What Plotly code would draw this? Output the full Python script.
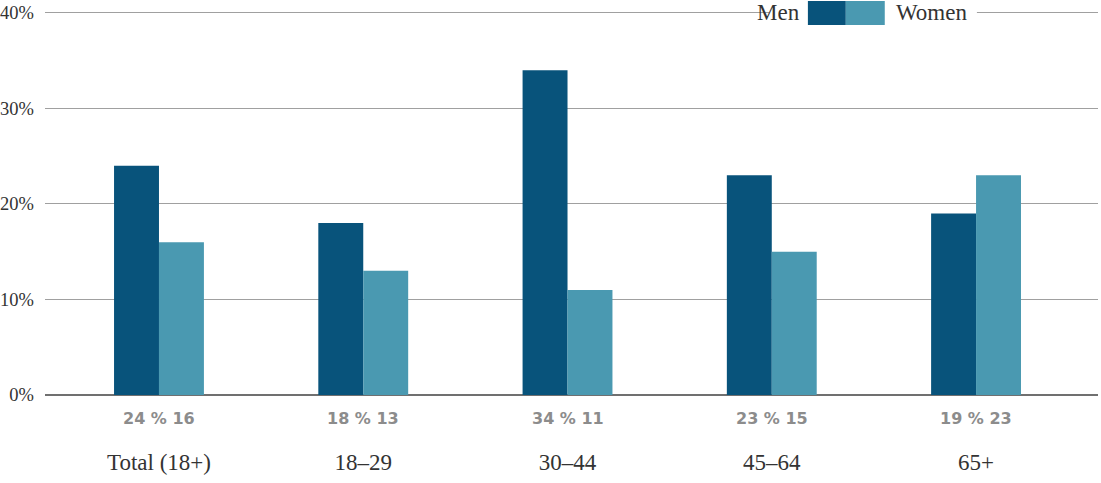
import plotly.graph_objects as go

categories = ["Total (18+)", "18–29", "30–44", "45–64", "65+"]
men = [24, 18, 34, 23, 19]
women = [16, 13, 11, 15, 23]
y_ticks = [0, 10, 20, 30, 40]
y_tick_labels = ["0%", "10%", "20%", "30%", "40%"]

MEN_C = "#08537b"
WOMEN_C = "#4a99b1"
SERIF = "Liberation Serif"
xs = list(range(len(categories)))

fig = go.Figure()
fig.add_trace(go.Bar(x=xs, y=men, name="Men", marker_color=MEN_C, marker_line_width=0))
fig.add_trace(go.Bar(x=xs, y=women, name="Women", marker_color=WOMEN_C, marker_line_width=0))

for i, (m, w) in enumerate(zip(men, women)):
    fig.add_annotation(x=i, y=0, xref="x", yref="y", text=f"<b>{m} % {w}</b>", showarrow=False,
                       yshift=-23, font=dict(family="DejaVu Sans", size=16, color="#8c8c8c"),
                       xanchor="center", yanchor="middle")

# custom legend over top gridline
fig.add_shape(type="rect", xref="paper", yref="y", x0=0.688, x1=0.885, y0=38.5, y1=41.3,
              fillcolor="white", line_width=0, layer="above")
fig.add_annotation(xref="paper", yref="y", x=0.719, y=40, text="Men", showarrow=False,
                   xanchor="right", yanchor="middle",
                   font=dict(family=SERIF, size=23, color="#333333"))
fig.add_shape(type="rect", xref="paper", yref="y", x0=0.7245, x1=0.7605, y0=38.75, y1=41.25,
              fillcolor=MEN_C, line_width=0, layer="above")
fig.add_shape(type="rect", xref="paper", yref="y", x0=0.7605, x1=0.7975, y0=38.75, y1=41.25,
              fillcolor=WOMEN_C, line_width=0, layer="above")
fig.add_annotation(xref="paper", yref="y", x=0.806, y=40, text="Women", showarrow=False,
                   xanchor="left", yanchor="middle",
                   font=dict(family=SERIF, size=23, color="#333333"))

fig.update_layout(
    width=1101, height=483,
    margin=dict(l=45, r=3, t=0, b=88),
    paper_bgcolor="white", plot_bgcolor="white",
    barmode="group", bargap=0.56, bargroupgap=0,
    showlegend=False,
    xaxis=dict(range=[-0.558, 4.597], tickvals=xs, ticktext=categories,
               showgrid=False, zeroline=False, showline=False, ticks="",
               ticklabelstandoff=51, automargin=False,
               tickfont=dict(family=SERIF, size=23, color="#333333")),
    yaxis=dict(range=[0, 41.36], tickvals=y_ticks, ticktext=y_tick_labels,
               showgrid=True, gridcolor="#a0a0a0", gridwidth=1,
               zeroline=True, zerolinecolor="#707070", zerolinewidth=1.5,
               showline=False, ticks="", ticklabelstandoff=10, automargin=False,
               tickfont=dict(family=SERIF, size=18.5, color="#333333")),
)

fig.write_html("out.html")
